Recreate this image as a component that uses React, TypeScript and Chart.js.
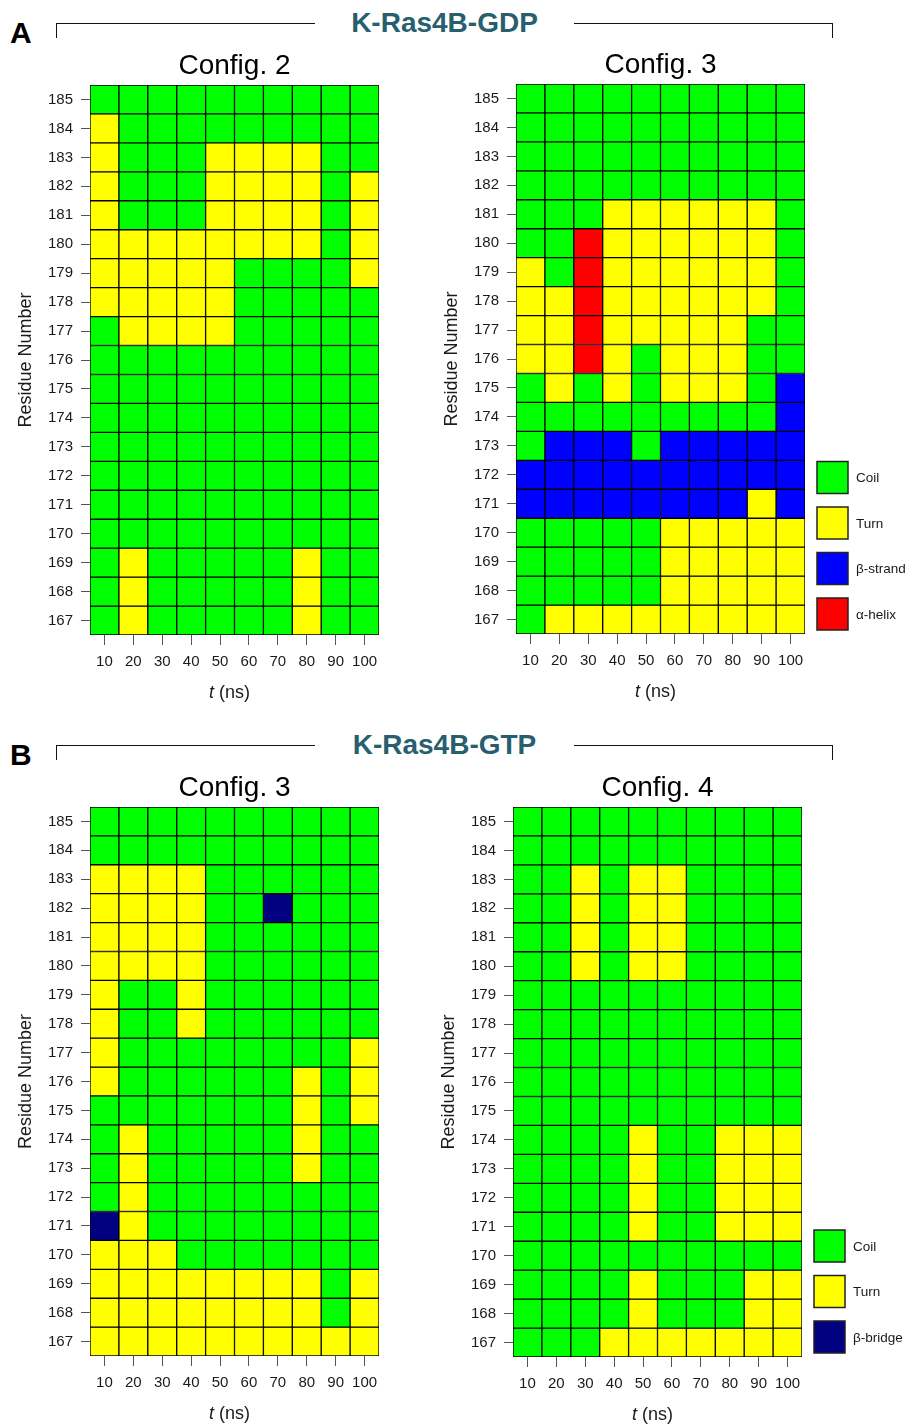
import React, { useEffect, useRef } from "react";
import { Chart, registerables } from "chart.js";

Chart.register(...registerables);

const FONT = "'Liberation Sans', Arial, Helvetica, sans-serif";

// ---------- data ----------
const TIMES = ["10", "20", "30", "40", "50", "60", "70", "80", "90", "100"];
const RESIDUES = [185, 184, 183, 182, 181, 180, 179, 178, 177, 176, 175, 174, 173, 172, 171, 170, 169, 168, 167];

// C = Coil, T = Turn, E = β-strand, H = α-helix, B = β-bridge ; one string per residue (185 → 167), one char per time
const GDP_CONFIG2 = [
  "CCCCCCCCCC",
  "TCCCCCCCCC",
  "TCCCTTTTCC",
  "TCCCTTTTCT",
  "TCCCTTTTCT",
  "TTTTTTTTCT",
  "TTTTTCCCCT",
  "TTTTTCCCCC",
  "CTTTTCCCCC",
  "CCCCCCCCCC",
  "CCCCCCCCCC",
  "CCCCCCCCCC",
  "CCCCCCCCCC",
  "CCCCCCCCCC",
  "CCCCCCCCCC",
  "CCCCCCCCCC",
  "CTCCCCCTCC",
  "CTCCCCCTCC",
  "CTCCCCCTCC",
];

const GDP_CONFIG3 = [
  "CCCCCCCCCC",
  "CCCCCCCCCC",
  "CCCCCCCCCC",
  "CCCCCCCCCC",
  "CCCTTTTTTC",
  "CCHTTTTTTC",
  "TCHTTTTTTC",
  "TTHTTTTTTC",
  "TTHTTTTTCC",
  "TTHTCTTTCC",
  "CTCTCTTTCE",
  "CCCCCCCCCE",
  "CEEECEEEEE",
  "EEEEEEEEEE",
  "EEEEEEEETE",
  "CCCCCTTTTT",
  "CCCCCTTTTT",
  "CCCCCTTTTT",
  "CTTTTTTTTT",
];

const GTP_CONFIG3 = [
  "CCCCCCCCCC",
  "CCCCCCCCCC",
  "TTTTCCCCCC",
  "TTTTCCBCCC",
  "TTTTCCCCCC",
  "TTTTCCCCCC",
  "TCCTCCCCCC",
  "TCCTCCCCCC",
  "TCCCCCCCCT",
  "TCCCCCCTCT",
  "CCCCCCCTCT",
  "CTCCCCCTCC",
  "CTCCCCCTCC",
  "CTCCCCCCCC",
  "BTCCCCCCCC",
  "TTTCCCCCCC",
  "TTTTTTTTCT",
  "TTTTTTTTCT",
  "TTTTTTTTTT",
];

const GTP_CONFIG4 = [
  "CCCCCCCCCC",
  "CCCCCCCCCC",
  "CCTCTTCCCC",
  "CCTCTTCCCC",
  "CCTCTTCCCC",
  "CCTCTTCCCC",
  "CCCCCCCCCC",
  "CCCCCCCCCC",
  "CCCCCCCCCC",
  "CCCCCCCCCC",
  "CCCCCCCCCC",
  "CCCCTCCTTT",
  "CCCCTCCTTT",
  "CCCCTCCTTT",
  "CCCCTCCTTT",
  "CCCCCCCCCC",
  "CCCCTCCCTT",
  "CCCCTCCCTT",
  "CCCTTTTTTT",
];

const LEGEND_GDP = [
  { code: "C", label: "Coil" },
  { code: "T", label: "Turn" },
  { code: "E", label: "β-strand" },
  { code: "H", label: "α-helix" },
];
const LEGEND_GTP = [
  { code: "C", label: "Coil" },
  { code: "T", label: "Turn" },
  { code: "B", label: "β-bridge" },
];

const COLORS: Record<string, string> = {
  C: "#00FF00",
  T: "#FFFF00",
  E: "#0000FF",
  H: "#FF0000",
  B: "#000080",
};

// ---------- layout ----------
const Y_AXIS_W = 90;
const X_AXIS_H = 75;
const TITLE_SPACE = 45;
const TITLE_SIZE = 28;

type PanelSpec = {
  title: string;
  rows: string[];
  legend: { code: string; label: string }[] | null;
  area: { l: number; r: number; t: number; b: number };
  rightPad: number;
};

const PANELS: PanelSpec[] = [
  { title: "Config. 2", rows: GDP_CONFIG2, legend: null, area: { l: 90, r: 379, t: 85, b: 635 }, rightPad: 12 },
  { title: "Config. 3", rows: GDP_CONFIG3, legend: LEGEND_GDP, area: { l: 516, r: 805, t: 84, b: 634 }, rightPad: 107 },
  { title: "Config. 3", rows: GTP_CONFIG3, legend: null, area: { l: 90, r: 379, t: 807, b: 1356 }, rightPad: 12 },
  { title: "Config. 4", rows: GTP_CONFIG4, legend: LEGEND_GTP, area: { l: 513, r: 802, t: 807, b: 1357 }, rightPad: 110 },
];

function legendPlugin(items: { code: string; label: string }[] | null) {
  return {
    id: "cellLegend",
    afterDraw(chart: any) {
      if (!items) return;
      const { ctx, chartArea } = chart;
      const x = chartArea.right + 12;
      const n = items.length;
      const bw = 31;
      const bh = 32;
      ctx.save();
      items.forEach((it, i) => {
        const top = chartArea.bottom - 4 - bh - (n - 1 - i) * 45.5;
        ctx.fillStyle = COLORS[it.code];
        ctx.fillRect(x, top, bw, bh);
        ctx.strokeStyle = "#222";
        ctx.lineWidth = 1.5;
        ctx.strokeRect(x, top, bw, bh);
        ctx.fillStyle = "#1a1a1a";
        ctx.font = `13.5px ${FONT}`;
        ctx.textBaseline = "middle";
        ctx.textAlign = "left";
        ctx.fillText(it.label, x + bw + 8, top + bh / 2 + 1);
      });
      ctx.restore();
    },
  };
}

function Panel({ spec }: { spec: PanelSpec }) {
  const ref = useRef<HTMLCanvasElement>(null);
  const { area, rightPad } = spec;
  const width = Y_AXIS_W + (area.r - area.l) + rightPad;
  const height = TITLE_SPACE + (area.b - area.t) + X_AXIS_H;
  const left = area.l - Y_AXIS_W;
  const top = area.t - TITLE_SPACE;

  useEffect(() => {
    if (!ref.current) return;
    const datasets = RESIDUES.map((r, i) => ({
      label: String(r),
      data: TIMES.map(() => [r - 0.5, r + 0.5]),
      backgroundColor: spec.rows[i].split("").map((c) => COLORS[c]),
      borderColor: "#000000",
      borderWidth: 1,
      borderSkipped: false,
      barPercentage: 1,
      categoryPercentage: 1,
      stack: "cells",
    }));
    const titleBox = TITLE_SIZE * 1.2 + 2;
    const chart = new Chart(ref.current, {
      type: "bar",
      data: { labels: TIMES, datasets: datasets as any },
      options: {
        animation: false,
        responsive: false,
        maintainAspectRatio: false,
        events: [],
        layout: { padding: { left: 0, top: TITLE_SPACE - titleBox, right: rightPad, bottom: 0 } },
        plugins: {
          legend: { display: false },
          tooltip: { enabled: false },
          title: {
            display: true,
            text: spec.title,
            fullSize: false,
            color: "#000",
            font: { family: FONT, size: TITLE_SIZE, weight: "normal" as any },
            padding: { top: 0, bottom: 2 },
          },
        },
        scales: {
          x: {
            type: "category",
            stacked: true,
            offset: true,
            afterFit: (axis: any) => {
              axis.height = X_AXIS_H;
            },
            grid: { offset: false, drawOnChartArea: false, drawTicks: true, tickLength: 10, color: "#555" },
            border: { display: false },
            ticks: { font: { family: FONT, size: 15 }, color: "#1a1a1a", padding: 8, maxRotation: 0, autoSkip: false },
          },
          y: {
            type: "linear",
            stacked: false,
            min: 166.5,
            max: 185.5,
            afterBuildTicks: (axis: any) => {
              axis.ticks = RESIDUES.map((v) => ({ value: v }));
            },
            afterFit: (axis: any) => {
              axis.width = Y_AXIS_W;
            },
            grid: { drawOnChartArea: false, drawTicks: true, tickLength: 9, color: "#555" },
            border: { display: false },
            ticks: { font: { family: FONT, size: 15 }, color: "#1a1a1a", padding: 8, autoSkip: false },
            title: {
              display: true,
              text: "Residue Number",
              color: "#1a1a1a",
              font: { family: FONT, size: 18 },
              padding: { top: 15, bottom: 0 },
            },
          },
        },
      } as any,
      plugins: [legendPlugin(spec.legend)],
    });
    return () => chart.destroy();
  }, [spec]);

  const cx = (area.l + area.r) / 2 - 5;
  return (
    <>
      <canvas
        ref={ref}
        width={width}
        height={height}
        style={{ position: "absolute", left, top, width, height }}
      />
      <div
        style={{
          position: "absolute",
          left: cx - 50,
          top: area.b + 57 - 11,
          width: 100,
          textAlign: "center",
          fontFamily: FONT,
          fontSize: 18,
          lineHeight: "22px",
          color: "#1a1a1a",
          whiteSpace: "nowrap",
        }}
      >
        <i>t</i> (ns)
      </div>
    </>
  );
}

function Header({ letter, title, y }: { letter: string; title: string; y: number }) {
  const lineColor = "#111";
  return (
    <>
      <div
        style={{
          position: "absolute",
          left: 10,
          top: y + 20 - 25.4,
          fontFamily: FONT,
          fontWeight: "bold",
          fontSize: 30,
          lineHeight: "30px",
          color: "#000",
        }}
      >
        {letter}
      </div>
      <div
        style={{
          position: "absolute",
          left: 56,
          top: y,
          width: 259,
          height: 15,
          borderTop: `1px solid ${lineColor}`,
          borderLeft: `1px solid ${lineColor}`,
          boxSizing: "border-box",
        }}
      />
      <div
        style={{
          position: "absolute",
          left: 574,
          top: y,
          width: 259,
          height: 15,
          borderTop: `1px solid ${lineColor}`,
          borderRight: `1px solid ${lineColor}`,
          boxSizing: "border-box",
        }}
      />
      <div
        style={{
          position: "absolute",
          left: 315,
          width: 259,
          top: y + 10 - 23.7,
          textAlign: "center",
          fontFamily: FONT,
          fontWeight: "bold",
          fontSize: 28,
          lineHeight: "28px",
          color: "#275f6e",
          whiteSpace: "nowrap",
        }}
      >
        {title}
      </div>
    </>
  );
}

export default function App() {
  return (
    <div
      style={{
        position: "absolute",
        left: 0,
        top: 0,
        width: 912,
        height: 1424,
        overflow: "hidden",
        background: "#fff",
      }}
    >
      <Header letter="A" title="K-Ras4B-GDP" y={23} />
      <Header letter="B" title="K-Ras4B-GTP" y={745} />
      {PANELS.map((p, i) => (
        <Panel key={i} spec={p} />
      ))}
    </div>
  );
}
